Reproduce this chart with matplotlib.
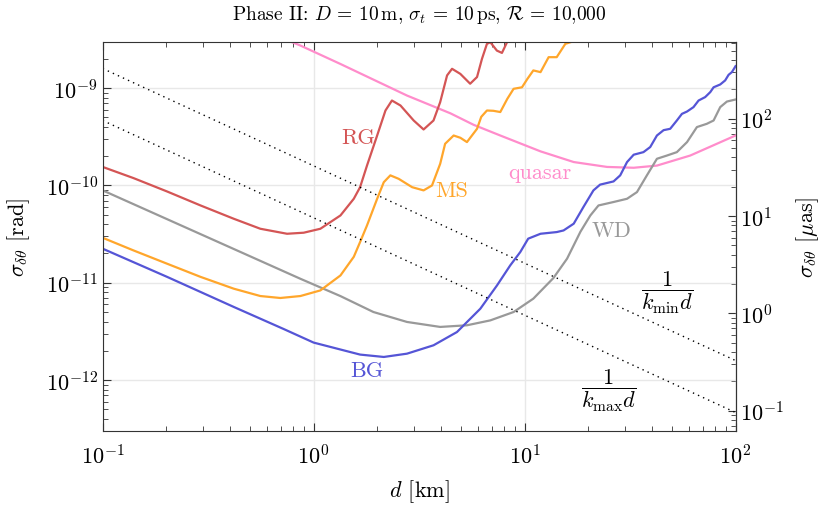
import matplotlib
matplotlib.use("Agg")
import matplotlib.pyplot as plt
import numpy as np

# fonts: computer modern look
plt.rcParams["font.family"] = "serif"
plt.rcParams["font.serif"] = ["cmr10"]
plt.rcParams["mathtext.fontset"] = "cm"
plt.rcParams["axes.formatter.use_mathtext"] = True

# ------------ data --------------------------------------
bg_d = [0.1, 0.202, 0.418, 0.721, 1.0, 1.66, 2.15, 2.77, 3.70, 4.78, 6.17, 7.40,
        8.55, 9.54, 10.4, 11.9, 14.2, 15.3, 17.1, 19.0, 21.2, 22.8, 26.4, 28.4,
        30.6, 32.9, 36.6, 39.4, 42.4, 45.6, 49.0, 52.7, 55.7, 58.9, 63.2, 66.8,
        71.8, 75.9, 78.7, 84.6, 89.3, 92.7, 96.1, 100]
bg_s = [2.24e-11, 1.15e-11, 5.65e-12, 3.35e-12, 2.43e-12, 1.83e-12, 1.73e-12, 1.87e-12,
        2.28e-12, 3.12e-12, 5.42e-12, 9.4e-12, 1.51e-11, 2.07e-11, 2.84e-11, 3.19e-11,
        3.32e-11, 3.45e-11, 4.05e-11, 6.0e-11, 8.9e-11, 1.02e-10, 1.1e-10, 1.27e-10,
        1.74e-10, 2.07e-10, 2.2e-10, 2.48e-10, 3.26e-10, 3.7e-10, 3.82e-10, 4.65e-10,
        5.44e-10, 5.75e-10, 6.38e-10, 7.46e-10, 8.09e-10, 9.1e-10, 1.02e-9, 1.09e-9,
        1.2e-9, 1.37e-9, 1.46e-9, 1.68e-9]

wd_d = [0.1, 0.865, 1.34, 1.92, 2.77, 3.98, 5.33, 6.88, 8.87, 11.0, 13.7, 15.9,
        18.4, 20.5, 22.4, 26.4, 30.6, 34.1, 38.0, 42.4, 47.3, 52.7, 58.9, 65.6,
        73.1, 78.7, 84.6, 91.0, 100]
wd_s = [8.9e-11, 1.1e-11, 7.3e-12, 5.01e-12, 3.96e-12, 3.52e-12, 3.66e-12, 4.11e-12,
        5.01e-12, 6.87e-12, 1.12e-11, 1.77e-11, 3.35e-11, 4.92e-11, 6.23e-11, 6.76e-11,
        7.3e-11, 8.55e-11, 1.27e-10, 1.88e-10, 2.03e-10, 2.2e-10, 2.79e-10, 3.98e-10,
        4.3e-10, 4.65e-10, 6.38e-10, 7.28e-10, 7.64e-10]

ms_d = [0.1, 0.140, 0.202, 0.291, 0.418, 0.559, 0.695, 0.865, 1.076, 1.34, 1.55, 1.66,
        1.79, 2.0, 2.15, 2.31, 2.53, 2.93, 3.32, 3.64, 3.98, 4.20, 4.61, 4.96, 5.33,
        5.95, 6.23, 6.63, 7.11, 7.67, 8.28, 8.87, 9.72, 10.3, 11.0, 11.9, 13.0, 14.2,
        15.6, 16.8, 18.0]
ms_s = [2.9e-11, 2.15e-11, 1.57e-11, 1.15e-11, 8.7e-12, 7.31e-12, 6.98e-12, 7.31e-12,
        8.35e-12, 1.19e-11, 1.85e-11, 2.62e-11, 3.88e-11, 7.3e-11, 1.08e-10, 1.27e-10,
        1.17e-10, 9.6e-11, 8.9e-11, 1.0e-10, 1.67e-10, 2.68e-10, 3.26e-10, 3.09e-10,
        2.79e-10, 3.82e-10, 5.07e-10, 5.89e-10, 5.85e-10, 5.68e-10, 7.76e-10, 9.84e-10,
        1.02e-9, 1.24e-9, 1.52e-9, 1.46e-9, 2.08e-9, 2.08e-9, 2.85e-9, 3.0e-9, 3.5e-9]

rg_d = [0.1, 0.140, 0.202, 0.291, 0.418, 0.559, 0.748, 0.897, 1.076, 1.34, 1.55, 1.66,
        1.79, 2.0, 2.19, 2.35, 2.58, 2.98, 3.32, 3.70, 3.98, 4.29, 4.53, 4.96, 5.52,
        5.95, 6.28, 6.63, 6.88, 7.39, 7.81, 8.26, 8.55]
rg_s = [1.55e-10, 1.19e-10, 8.67e-11, 6.23e-11, 4.55e-11, 3.59e-11, 3.19e-11, 3.27e-11,
        3.59e-11, 4.92e-11, 7.3e-11, 9.6e-11, 1.6e-10, 3.26e-10, 5.89e-10, 7.46e-10,
        6.63e-10, 4.65e-10, 3.76e-10, 4.65e-10, 7.18e-10, 1.35e-9, 1.58e-9, 1.4e-9,
        1.11e-9, 1.3e-9, 2.0e-9, 2.85e-9, 2.96e-9, 2.43e-9, 2.3e-9, 2.97e-9, 3.4e-9]

qso_d = [0.7, 0.865, 1.34, 2.77, 4.45, 5.73, 7.67, 11.9, 17.1, 24.6, 32.9, 42.4, 61.0, 100]
qso_s = [3.3e-9, 2.74e-9, 1.77e-9, 8.39e-10, 5.51e-10, 4.2e-10, 3.26e-10, 2.24e-10,
         1.74e-10, 1.55e-10, 1.52e-10, 1.6e-10, 2.03e-10, 3.26e-10]

# 1/(k d) guide lines
guide_d = [0.1, 100]
kmin_s = [1.59e-9, 1.59e-12]
kmax_s = [4.65e-10, 4.65e-13]

RAD2UAS = 180 / np.pi * 3600 * 1e6

c_bg = "#5555d6"
c_wd = "#999999"
c_ms = "#ffa62b"
c_rg = "#d45555"
c_qso = "#ff8ccb"
# --------------------------------------------------------

fig = plt.figure(figsize=(8.21, 5.10), dpi=100)
ax = fig.add_axes([0.1251, 0.1529, 0.7708, 0.7634])

lw = 1.6
ax.plot(qso_d, qso_s, color=c_qso, lw=lw)
ax.plot(wd_d, wd_s, color=c_wd, lw=lw)
ax.plot(bg_d, bg_s, color=c_bg, lw=lw)
ax.plot(ms_d, ms_s, color=c_ms, lw=lw)
ax.plot(rg_d, rg_s, color=c_rg, lw=lw)
ax.plot(guide_d, kmin_s, color="black", lw=1.0, ls=(0, (1, 3)))
ax.plot(guide_d, kmax_s, color="black", lw=1.0, ls=(0, (1, 3)))

ax.set_xscale("log")
ax.set_yscale("log")
ax.set_xlim(0.1, 100)
ax.set_ylim(3e-13, 3e-9)

ax.grid(True, which="major", color="#e8e8e8", lw=1.0)
ax.set_axisbelow(True)

for sp in ax.spines.values():
    sp.set_color("#333333")
ax.tick_params(which="both", direction="in", top=True, right=False, labelsize=16,
               color="#333333")
ax.tick_params(which="major", length=6)
ax.tick_params(which="minor", length=3.5)
ax.tick_params(axis="x", pad=9)

ax2 = ax.secondary_yaxis("right", functions=(lambda r: r * RAD2UAS, lambda u: u / RAD2UAS))
ax2.tick_params(which="both", direction="in", labelsize=16, color="#333333")
ax2.tick_params(which="major", length=6)
ax2.tick_params(which="minor", length=3.5)
ax2.spines["right"].set_color("#333333")

ax.set_xlabel(r"$d$ [km]", fontsize=16, labelpad=7)
ax.set_ylabel(r"$\sigma_{\delta\theta}$ [rad]", fontsize=16, labelpad=10)
ax2.set_ylabel(r"$\sigma_{\delta\theta}$ [$\mu$as]", fontsize=16, labelpad=7)
ax.set_title(r"Phase II: $D$ = 10$\,$m, $\sigma_t$ = 10$\,$ps, $\mathcal{R}$ = 10,000",
             fontsize=14, pad=16)

# curve labels
ax.text(1.63, 3.14e-10, "RG", color=c_rg, fontsize=16, ha="center", va="center")
ax.text(4.53, 9.0e-11, "MS", color=c_ms, fontsize=16, ha="center", va="center")
ax.text(11.86, 1.37e-10, "quasar", color=c_qso, fontsize=16, ha="center", va="center")
ax.text(25.9, 3.45e-11, "WD", color=c_wd, fontsize=16, ha="center", va="center")
ax.text(1.79, 1.26e-12, "BG", color=c_bg, fontsize=16, ha="center", va="center")
ax.text(47.3, 8.2e-12, r"$\dfrac{1}{k_{\min} d}$", fontsize=16, ha="center", va="center")
ax.text(25.0, 8.0e-13, r"$\dfrac{1}{k_{\max} d}$", fontsize=16, ha="center", va="center")

fig.savefig("out.png", dpi=100)
